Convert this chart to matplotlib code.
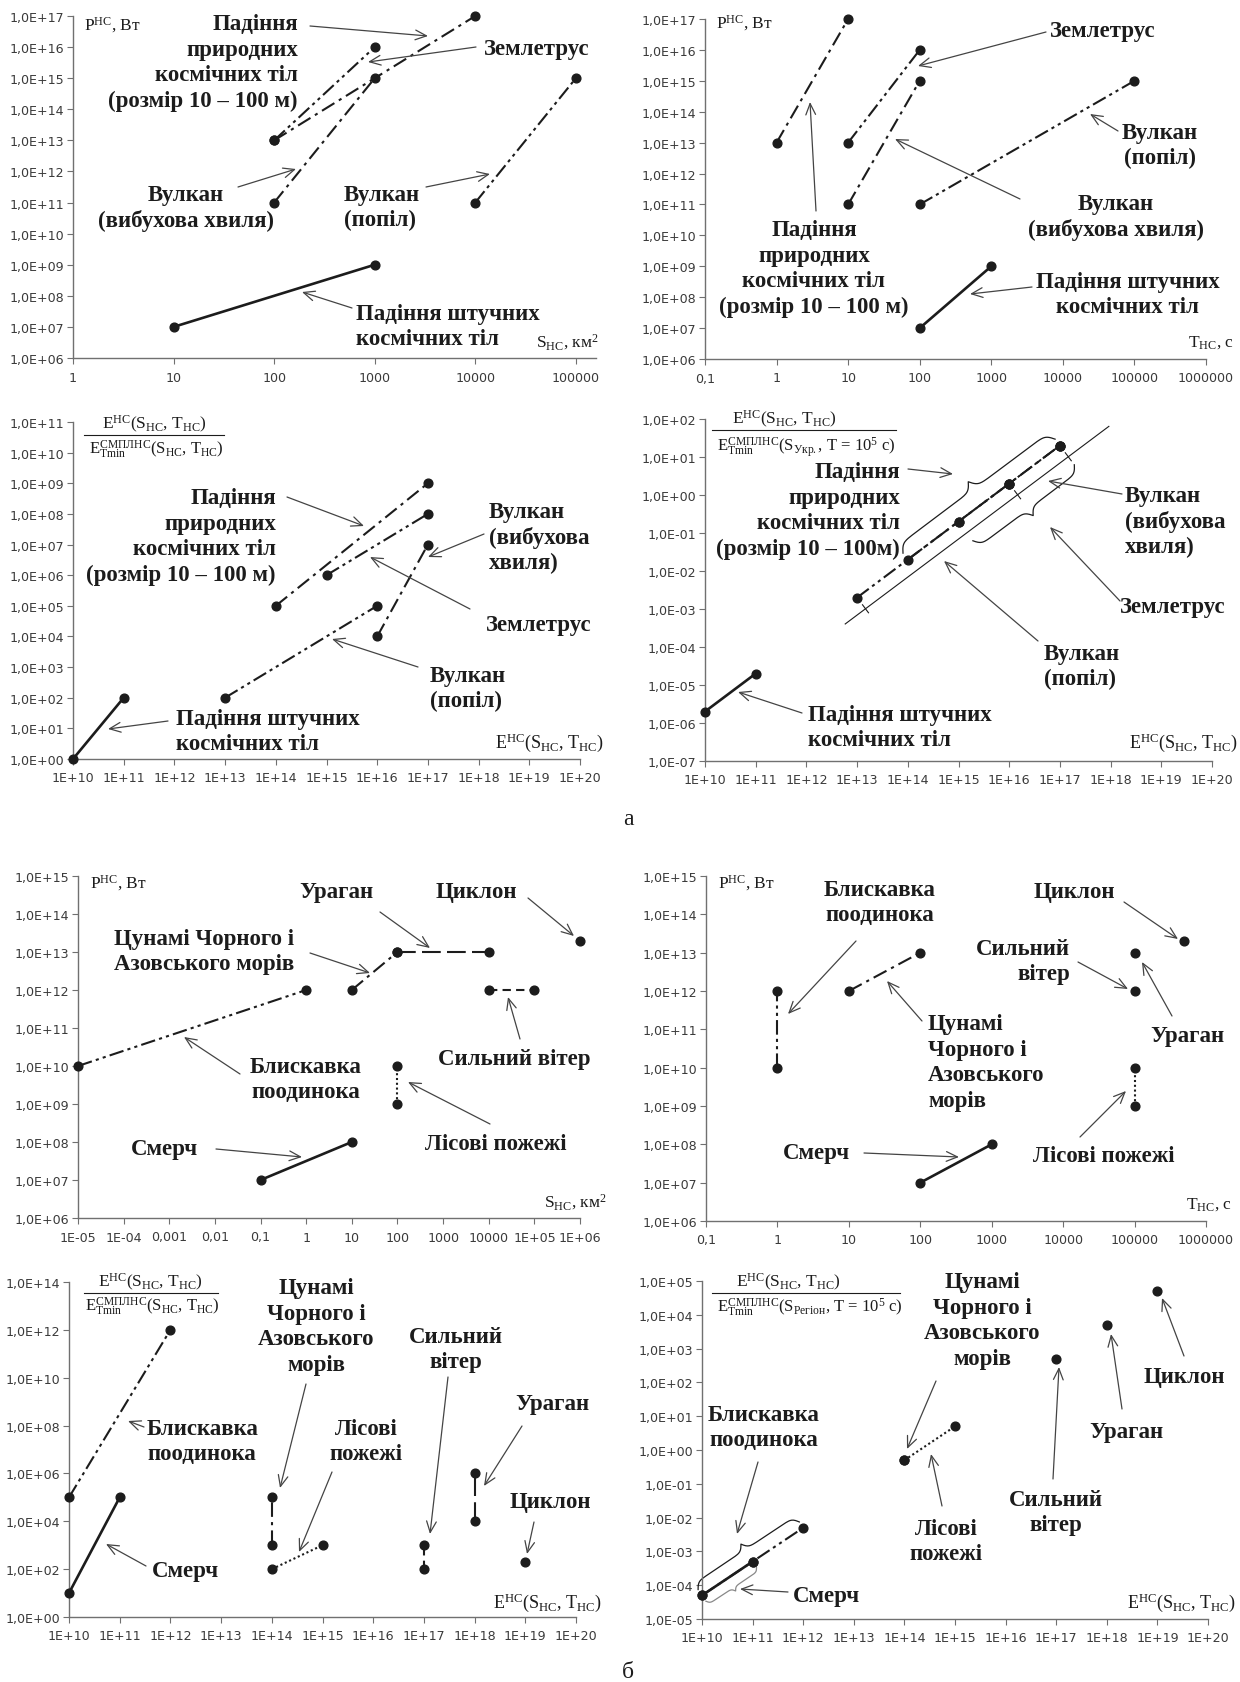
import numpy as np
import matplotlib
matplotlib.use('Agg')
import matplotlib.pyplot as plt
from matplotlib.patches import FancyArrowPatch
from matplotlib.lines import Line2D
from matplotlib.ticker import NullLocator

plt.rcParams['font.family'] = ['DejaVu Sans']
plt.rcParams['mathtext.fontset'] = 'custom'
plt.rcParams['mathtext.rm'] = 'Liberation Serif'
plt.rcParams['mathtext.it'] = 'Liberation Serif:italic'
plt.rcParams['mathtext.bf'] = 'Liberation Serif:bold'

W, H = 1240, 1683
SERIF = 'Liberation Serif'
INK = '#1c1c1c'
AXIS = '#707070'
BIG = 16.5     # bold captions
SMALL = 12.5   # axis captions
LINE_STEP = 25.7  # px between caption lines

# line styles of the series (same in every panel)
SOLID = '-'
DASHDOT = (0, (7, 2.5, 1.5, 2.5))
DASHDOTDOT = (0, (7, 2, 1.5, 2, 1.5, 2))
LONGDASH = (0, (9, 3))
DASH = (0, (4, 2.5))
DOT = (0, (1, 1.3))

# ---------------- panel а1: P (W) vs S (km2) ----------------
a1_natural_s = [100, 10000]
a1_natural_p = [1e13, 1e17]
a1_quake_s = [100, 1000]
a1_quake_p = [1e13, 1e16]
a1_blast_s = [100, 1000]
a1_blast_p = [1e11, 1e15]
a1_ash_s = [10000, 100000]
a1_ash_p = [1e11, 1e15]
a1_debris_s = [10, 1000]
a1_debris_p = [1e7, 1e9]

# ---------------- panel а2: P (W) vs T (s) ----------------
a2_natural_t = [1, 10]
a2_natural_p = [1e13, 1e17]
a2_quake_t = [10, 100]
a2_quake_p = [1e13, 1e16]
a2_blast_t = [10, 100]
a2_blast_p = [1e11, 1e15]
a2_ash_t = [100, 100000]
a2_ash_p = [1e11, 1e15]
a2_debris_t = [100, 1000]
a2_debris_p = [1e7, 1e9]

# ---------------- panel а3: relative energy vs E ----------------
a3_natural_e = [1e14, 1e17]
a3_natural_r = [1e5, 1e9]
a3_quake_e = [1e15, 1e17]
a3_quake_r = [1e6, 1e8]
a3_blast_e = [1e16, 1e17]
a3_blast_r = [1e4, 1e7]
a3_ash_e = [1e13, 1e16]
a3_ash_r = [1e2, 1e5]
a3_debris_e = [1e10, 1e11]
a3_debris_r = [1, 1e2]

# ---------------- panel а4: energy relative to Ukraine ----------------
a4_natural_e = [1e14, 1e15, 1e16, 1e17]
a4_natural_r = [2e-2, 2e-1, 2, 2e1]
a4_quake_e = [1e15, 1e17]
a4_quake_r = [2e-1, 2e1]
a4_blast_e = [1e16, 1e17]
a4_blast_r = [2, 2e1]
a4_ash_e = [1e13, 1e16]
a4_ash_r = [2e-3, 2]
a4_debris_e = [1e10, 1e11]
a4_debris_r = [2e-6, 2e-5]

# ---------------- panel б1: P (W) vs S (km2) ----------------
b1_lightning_s = [1e-5, 1]
b1_lightning_p = [1e10, 1e12]
b1_tsunami_s = [10, 100]
b1_tsunami_p = [1e12, 1e13]
b1_hurricane_s = [100, 10000]
b1_hurricane_p = [1e13, 1e13]
b1_wind_s = [10000, 1e5]
b1_wind_p = [1e12, 1e12]
b1_cyclone_s = [1e6]
b1_cyclone_p = [2e13]
b1_fire_s = [100, 100]
b1_fire_p = [1e9, 1e10]
b1_tornado_s = [0.1, 10]
b1_tornado_p = [1e7, 1e8]

# ---------------- panel б2: P (W) vs T (s) ----------------
b2_lightning_t = [1, 1]
b2_lightning_p = [1e10, 1e12]
b2_tsunami_t = [10, 100]
b2_tsunami_p = [1e12, 1e13]
b2_hurricane_t = [1e5]
b2_hurricane_p = [1e13]
b2_wind_t = [1e5]
b2_wind_p = [1e12]
b2_cyclone_t = [5e5]
b2_cyclone_p = [2e13]
b2_fire_t = [1e5, 1e5]
b2_fire_p = [1e9, 1e10]
b2_tornado_t = [100, 1000]
b2_tornado_p = [1e7, 1e8]

# ---------------- panel б3: relative energy vs E ----------------
b3_lightning_e = [1e10, 1e12]
b3_lightning_r = [1e5, 1e12]
b3_tornado_e = [1e10, 1e11]
b3_tornado_r = [1e1, 1e5]
b3_tsunami_e = [1e14, 1e14]
b3_tsunami_r = [1e3, 1e5]
b3_fire_e = [1e14, 1e15]
b3_fire_r = [1e2, 1e3]
b3_wind_e = [1e17, 1e17]
b3_wind_r = [1e2, 1e3]
b3_hurricane_e = [1e18, 1e18]
b3_hurricane_r = [1e4, 1e6]
b3_cyclone_e = [1e19]
b3_cyclone_r = [2e2]

# ---------------- panel б4: energy relative to region ----------------
b4_lightning_e = [1e10, 1e11, 1e12]
b4_lightning_r = [5e-5, 5e-4, 5e-3]
b4_tornado_e = [1e10, 1e11]
b4_tornado_r = [5e-5, 5e-4]
b4_tsunami_e = [1e14]
b4_tsunami_r = [0.5]
b4_fire_e = [1e14, 1e15]
b4_fire_r = [0.5, 5]
b4_wind_e = [1e17]
b4_wind_r = [5e2]
b4_hurricane_e = [1e18]
b4_hurricane_r = [5e3]
b4_cyclone_e = [1e19]
b4_cyclone_r = [5e4]

# tick labels
area_labels = ['1', '10', '100', '1000', '10000', '100000']
time_labels = ['0,1', '1', '10', '100', '1000', '10000', '100000', '1000000']
area_labels_b = ['1E-05', '1E-04', '0,001', '0,01', '0,1', '1', '10', '100',
                 '1000', '10000', '1E+05', '1E+06']
energy_exp = list(range(10, 21))


def sci_y(exps):
    return ['1,0E%+03d' % e for e in exps]


def sci_x(exps):
    return ['1E%+03d' % e for e in exps]


fig = plt.figure(figsize=(W / 100, H / 100), dpi=100)


def add_panel(left, right, top, bottom, xlim, xexp, xlabels, ylim, yexp):
    ax = fig.add_axes([left / W, 1 - bottom / H, (right - left) / W, (bottom - top) / H])
    ax.set_xscale('log')
    ax.set_yscale('log')
    ax.set_xlim(*xlim)
    ax.set_ylim(*ylim)
    ax.set_xticks([10.0 ** e for e in xexp], xlabels)
    ax.set_yticks([10.0 ** e for e in yexp], sci_y(yexp))
    ax.xaxis.set_minor_locator(NullLocator())
    ax.yaxis.set_minor_locator(NullLocator())
    for side in ('top', 'right'):
        ax.spines[side].set_visible(False)
    for side in ('left', 'bottom'):
        ax.spines[side].set_color(AXIS)
        ax.spines[side].set_linewidth(1.0)
    ax.tick_params(colors=AXIS, labelcolor='#3a3a3a', labelsize=9.1, length=4, width=0.8)
    ax.tick_params(axis='x', pad=5)
    ax.tick_params(axis='y', pad=2.5)
    ax.patch.set_alpha(0)
    return ax


def draw(ax, x, y, style, lw=1.5):
    ax.plot(x, y, color=INK, lw=lw, linestyle=style, marker='o', ms=6.3,
            mfc=INK, mec=INK, clip_on=False, zorder=3)


def label(x, y, s, ha='center', size=BIG, weight='bold'):
    # every line is its own text so that the boxes stay tight
    lines = s.split('\n')
    y0 = y - LINE_STEP * (len(lines) - 1) / 2
    for i, line in enumerate(lines):
        fig.text(x / W, 1 - (y0 + i * LINE_STEP) / H, line, ha=ha, va='center', fontsize=size,
                 fontweight=weight, family=SERIF, color=INK)


def arrow(tail, tip):
    fig.add_artist(FancyArrowPatch((tail[0] / W, 1 - tail[1] / H), (tip[0] / W, 1 - tip[1] / H),
                                   transform=fig.transFigure, arrowstyle='->,head_length=0.8,head_width=0.35',
                                   mutation_scale=10, color='#444444', lw=0.9, shrinkA=0, shrinkB=0))


def fraction(cx, cx_den, y_num, y_line, y_den, x0, x1, num, den):
    label(cx, y_num, num, size=SMALL, weight='normal')
    fig.add_artist(Line2D([x0 / W, x1 / W], [1 - y_line / H] * 2, transform=fig.transFigure,
                          color=INK, lw=0.8))
    label(cx_den, y_den, den, size=SMALL - 0.5, weight='normal')


def annotate_all(items):
    for x, y, text, ha, tail, tip in items:
        label(x, y, text, ha=ha)
        arrow(tail, tip)


def normal_frame(ax, xs, ys):
    p = ax.transData.transform(np.column_stack([xs, ys]))
    d = p[-1] - p[0]
    u = d / np.hypot(*d)
    return p, u, np.array([-u[1], u[0]])


def brace(ax, xs, ys, offset, height, color=INK, lw=0.9):
    p, u, n = normal_frame(ax, xs, ys)
    length = np.hypot(*(p[-1] - p[0]))
    s = np.linspace(0, length / 2, 80)
    beta = 6.0 / abs(height)
    half = 1 / (1 + np.exp(-beta * s)) + 1 / (1 + np.exp(-beta * (s - s[-1])))
    half = (half - half[0]) / (half[-1] - half[0])
    s_full = np.concatenate([s, length - s[-2::-1]])
    h_full = np.concatenate([half, half[-2::-1]])
    pts = p[0] + np.outer(s_full, u) + np.outer(offset + height * h_full, n)
    xy = ax.transData.inverted().transform(pts)
    ax.plot(xy[:, 0], xy[:, 1], color=color, lw=lw, clip_on=False, zorder=2)


NUM = 'E$^{\\mathrm{НС}}$(S$_{\\mathrm{НС}}$, T$_{\\mathrm{НС}}$)'
DEN = 'E$^{\\mathrm{СМПЛНС}}_{\\mathrm{Тmin}}$(S$_{\\mathrm{НС}}$, T$_{\\mathrm{НС}}$)'
DEN_UKR = 'E$^{\\mathrm{СМПЛНС}}_{\\mathrm{Тmin}}$(S$_{\\mathrm{Укр.}}$, T = 10$^{5}$ с)'
DEN_REG = 'E$^{\\mathrm{СМПЛНС}}_{\\mathrm{Тmin}}$(S$_{\\mathrm{Регіон}}$, T = 10$^{5}$ с)'
P_LAB = 'P$^{\\mathrm{НС}}$, Вт'
S_LAB = 'S$_{\\mathrm{НС}}$, км$^{2}$'
T_LAB = 'T$_{\\mathrm{НС}}$, с'

NATURAL = 'Падіння\nприродних\nкосмічних тіл\n(розмір 10 – 100 м)'
DEBRIS = 'Падіння штучних\nкосмічних тіл'

# ======================= а1 =======================
ax = add_panel(73, 596, 17, 359, (1, 10 ** 5.2), range(0, 6), area_labels, (1e6, 1e17), range(6, 18))
draw(ax, a1_natural_s, a1_natural_p, DASHDOT)
draw(ax, a1_quake_s, a1_quake_p, DASHDOTDOT)
draw(ax, a1_blast_s, a1_blast_p, DASHDOT)
draw(ax, a1_ash_s, a1_ash_p, DASHDOTDOT)
draw(ax, a1_debris_s, a1_debris_p, SOLID, lw=1.9)
annotate_all([
    (298, 63, NATURAL, 'right', (310, 27), (428, 37)),
    (484, 50, 'Землетрус', 'left', (476, 48), (368, 63)),
    (186, 208, 'Вулкан\n(вибухова хвиля)', 'center', (238, 188), (296, 170)),
    (344, 208, 'Вулкан\n(попіл)', 'left', (426, 188), (490, 175)),
    (356, 327, DEBRIS, 'left', (352, 309), (302, 293)),
])
label(84, 25, P_LAB, ha='left', size=SMALL, weight='normal')
label(536, 342, S_LAB, ha='left', size=SMALL, weight='normal')

# ======================= а2 =======================
ax = add_panel(705, 1206, 20, 360, (0.1, 1e6), range(-1, 7), time_labels, (1e6, 1e17), range(6, 18))
draw(ax, a2_natural_t, a2_natural_p, DASHDOT)
draw(ax, a2_quake_t, a2_quake_p, DASHDOTDOT)
draw(ax, a2_blast_t, a2_blast_p, DASHDOT)
draw(ax, a2_ash_t, a2_ash_p, DASHDOTDOT)
draw(ax, a2_debris_t, a2_debris_p, SOLID, lw=1.9)
annotate_all([
    (1050, 31, 'Землетрус', 'left', (1046, 33), (918, 67)),
    (814, 269, NATURAL, 'center', (816, 212), (810, 103)),
    (1160, 146, 'Вулкан\n(попіл)', 'center', (1118, 132), (1090, 115)),
    (1116, 217, 'Вулкан\n(вибухова хвиля)', 'center', (1020, 200), (895, 140)),
    (1128, 295, DEBRIS, 'center', (1032, 288), (970, 295)),
])
label(716, 23, P_LAB, ha='left', size=SMALL, weight='normal')
label(1234, 343, T_LAB, ha='right', size=SMALL, weight='normal')

# ======================= а3 =======================
ax = add_panel(73, 580, 423, 760, (1e10, 1e20), energy_exp, sci_x(energy_exp), (1, 1e11), range(0, 12))
draw(ax, a3_natural_e, a3_natural_r, DASHDOT)
draw(ax, a3_quake_e, a3_quake_r, DASHDOTDOT)
draw(ax, a3_blast_e, a3_blast_r, DASHDOT)
draw(ax, a3_ash_e, a3_ash_r, DASHDOTDOT)
draw(ax, a3_debris_e, a3_debris_r, SOLID, lw=1.9)
annotate_all([
    (276, 537, NATURAL, 'right', (287, 498), (364, 527)),
    (489, 538, 'Вулкан\n(вибухова\nхвиля)', 'left', (484, 535), (428, 558)),
    (486, 625, 'Землетрус', 'left', (470, 610), (370, 558)),
    (430, 689, 'Вулкан\n(попіл)', 'left', (418, 668), (332, 640)),
    (176, 732, DEBRIS, 'left', (168, 722), (108, 730)),
])
fraction(154, 156, 424, 436, 450, 84, 224, NUM, DEN)
label(604, 743, NUM, ha='right', size=SMALL + 0.5, weight='normal')

# ======================= а4 =======================
ax = add_panel(705, 1212, 420, 762, (1e10, 1e20), energy_exp, sci_x(energy_exp), (1e-7, 1e2), range(-7, 3))
draw(ax, a4_natural_e, a4_natural_r, DASHDOT)
draw(ax, a4_quake_e, a4_quake_r, DASHDOTDOT, lw=1.2)
draw(ax, a4_blast_e, a4_blast_r, DASH, lw=1.2)
draw(ax, a4_ash_e, a4_ash_r, DASHDOTDOT)
draw(ax, a4_debris_e, a4_debris_r, SOLID, lw=1.9)
brace(ax, [a4_natural_e[0], a4_natural_e[-1]], [a4_natural_r[0], a4_natural_r[-1]], 8, 18)
brace(ax, a4_quake_e, a4_quake_r, -24, -16)
# thin dimension line showing the volcano ranges
k, b = np.polyfit(np.log10(a4_natural_e), np.log10(a4_natural_r), 1)
span = np.array([10 ** 12.6, 10 ** 17.8])
p, u, n = normal_frame(ax, span, 10 ** (k * np.log10(span) + b))
thin = ax.transData.inverted().transform(p - 14 * n)
ax.plot(thin[:, 0], thin[:, 1], color=INK, lw=0.8, clip_on=False)
for e in sorted(set(a4_ash_e + a4_blast_e)):
    q = ax.transData.transform([[e, 10 ** (k * np.log10(e) + b)]])[0] - 14 * n
    seg = ax.transData.inverted().transform([q - 5 * n, q + 5 * n])
    ax.plot(seg[:, 0], seg[:, 1], color=INK, lw=0.8, clip_on=False)
annotate_all([
    (900, 511, 'Падіння\nприродних\nкосмічних тіл\n(розмір 10 – 100м)', 'right', (908, 470), (953, 475)),
    (1125, 522, 'Вулкан\n(вибухова\nхвиля)', 'left', (1122, 495), (1048, 482)),
    (1120, 608, 'Землетрус', 'left', (1120, 602), (1050, 528)),
    (1044, 667, 'Вулкан\n(попіл)', 'left', (1038, 642), (944, 562)),
    (808, 728, DEBRIS, 'left', (802, 714), (738, 693)),
])
fraction(784, 806, 419, 431, 447, 712, 896, NUM, DEN_UKR)
label(1238, 743, NUM, ha='right', size=SMALL + 0.5, weight='normal')

label(628, 820, 'а', size=17, weight='normal')

# ======================= б1 =======================
ax = add_panel(78, 580, 877, 1219, (1e-5, 1e6), range(-5, 7), area_labels_b, (1e6, 1e15), range(6, 16))
draw(ax, b1_lightning_s, b1_lightning_p, DASHDOTDOT)
draw(ax, b1_tsunami_s, b1_tsunami_p, DASHDOT)
draw(ax, b1_hurricane_s, b1_hurricane_p, LONGDASH)
draw(ax, b1_wind_s, b1_wind_p, DASH)
draw(ax, b1_cyclone_s, b1_cyclone_p, SOLID)
draw(ax, b1_fire_s, b1_fire_p, DOT)
draw(ax, b1_tornado_s, b1_tornado_p, SOLID, lw=1.9)
annotate_all([
    (336, 893, 'Ураган', 'center', (380, 913), (430, 949)),
    (476, 893, 'Циклон', 'center', (528, 899), (574, 937)),
    (204, 952, 'Цунамі Чорного і\nАзовського морів', 'center', (310, 954), (370, 974)),
    (306, 1080, 'Блискавка\nпоодинока', 'center', (240, 1075), (184, 1038)),
    (514, 1059, 'Сильний вітер', 'center', (520, 1040), (508, 998)),
    (496, 1145, 'Лісові пожежі', 'center', (490, 1125), (408, 1083)),
    (164, 1150, 'Смерч', 'center', (216, 1150), (302, 1158)),
])
label(90, 883, P_LAB, ha='left', size=SMALL, weight='normal')
label(544, 1202, S_LAB, ha='left', size=SMALL, weight='normal')

# ======================= б2 =======================
ax = add_panel(706, 1206, 877, 1222, (0.1, 1e6), range(-1, 7), time_labels, (1e6, 1e15), range(6, 16))
draw(ax, b2_lightning_t, b2_lightning_p, DASHDOTDOT)
draw(ax, b2_tsunami_t, b2_tsunami_p, DASHDOT)
draw(ax, b2_hurricane_t, b2_hurricane_p, LONGDASH)
draw(ax, b2_wind_t, b2_wind_p, DASH)
draw(ax, b2_cyclone_t, b2_cyclone_p, SOLID)
draw(ax, b2_fire_t, b2_fire_p, DOT)
draw(ax, b2_tornado_t, b2_tornado_p, SOLID, lw=1.9)
annotate_all([
    (880, 903, 'Блискавка\nпоодинока', 'center', (856, 942), (788, 1015)),
    (1074, 893, 'Циклон', 'center', (1124, 903), (1178, 940)),
    (1070, 962, 'Сильний\nвітер', 'right', (1078, 963), (1128, 990)),
    (928, 1063, 'Цунамі\nЧорного і\nАзовського\nморів', 'left', (922, 1022), (887, 982)),
    (1150, 1037, 'Ураган', 'left', (1172, 1017), (1142, 963)),
    (1104, 1157, 'Лісові пожежі', 'center', (1080, 1138), (1126, 1092)),
    (816, 1153, 'Смерч', 'center', (864, 1154), (959, 1158)),
])
label(718, 883, P_LAB, ha='left', size=SMALL, weight='normal')
label(1232, 1205, T_LAB, ha='right', size=SMALL, weight='normal')

# ======================= б3 =======================
ax = add_panel(69, 576, 1283, 1618, (1e10, 1e20), energy_exp, sci_x(energy_exp), (1, 1e14), range(0, 15, 2))
draw(ax, b3_lightning_e, b3_lightning_r, DASHDOTDOT)
draw(ax, b3_tornado_e, b3_tornado_r, SOLID, lw=1.9)
draw(ax, b3_tsunami_e, b3_tsunami_r, DASHDOT)
draw(ax, b3_fire_e, b3_fire_r, DOT)
draw(ax, b3_wind_e, b3_wind_r, DASH)
draw(ax, b3_hurricane_e, b3_hurricane_r, LONGDASH)
draw(ax, b3_cyclone_e, b3_cyclone_r, SOLID)
annotate_all([
    (316, 1327, 'Цунамі\nЧорного і\nАзовського\nморів', 'center', (306, 1385), (280, 1489)),
    (456, 1350, 'Сильний\nвітер', 'center', (448, 1378), (430, 1535)),
    (552, 1405, 'Ураган', 'center', (522, 1427), (484, 1487)),
    (366, 1442, 'Лісові\nпожежі', 'center', (332, 1473), (299, 1553)),
    (147, 1442, 'Блискавка\nпоодинока', 'left', (144, 1428), (128, 1422)),
    (550, 1503, 'Циклон', 'center', (534, 1523), (527, 1555)),
    (152, 1572, 'Смерч', 'left', (146, 1567), (106, 1545)),
])
fraction(150, 152, 1282, 1294, 1307, 84, 218, NUM, DEN)
label(602, 1603, NUM, ha='right', size=SMALL + 0.5, weight='normal')

# ======================= б4 =======================
ax = add_panel(702, 1208, 1282, 1620, (1e10, 1e20), energy_exp, sci_x(energy_exp), (1e-5, 1e5), range(-5, 6))
draw(ax, b4_lightning_e, b4_lightning_r, DASHDOTDOT)
draw(ax, b4_tornado_e, b4_tornado_r, SOLID, lw=1.9)
draw(ax, b4_tsunami_e, b4_tsunami_r, DASHDOT)
draw(ax, b4_fire_e, b4_fire_r, DOT)
draw(ax, b4_wind_e, b4_wind_r, DASH)
draw(ax, b4_hurricane_e, b4_hurricane_r, LONGDASH)
draw(ax, b4_cyclone_e, b4_cyclone_r, SOLID)
brace(ax, [b4_lightning_e[0], b4_lightning_e[-1]], [b4_lightning_r[0], b4_lightning_r[-1]], 7, 14)
brace(ax, b4_tornado_e, b4_tornado_r, -7, -8, color='#888888')
annotate_all([
    (982, 1321, 'Цунамі\nЧорного і\nАзовського\nморів', 'center', (936, 1382), (907, 1450)),
    (1184, 1377, 'Циклон', 'center', (1184, 1357), (1162, 1299)),
    (1126, 1433, 'Ураган', 'center', (1122, 1410), (1111, 1335)),
    (1056, 1513, 'Сильний\nвітер', 'center', (1053, 1480), (1059, 1368)),
    (946, 1542, 'Лісові\nпожежі', 'center', (942, 1507), (931, 1455)),
    (764, 1428, 'Блискавка\nпоодинока', 'center', (758, 1463), (737, 1535)),
    (793, 1597, 'Смерч', 'left', (788, 1593), (740, 1590)),
])
fraction(788, 810, 1282, 1294, 1308, 712, 900, NUM, DEN_REG)
label(1236, 1603, NUM, ha='right', size=SMALL + 0.5, weight='normal')

label(628, 1673, 'б', size=17, weight='normal')

fig.savefig('out.png', dpi=100, facecolor='white')
